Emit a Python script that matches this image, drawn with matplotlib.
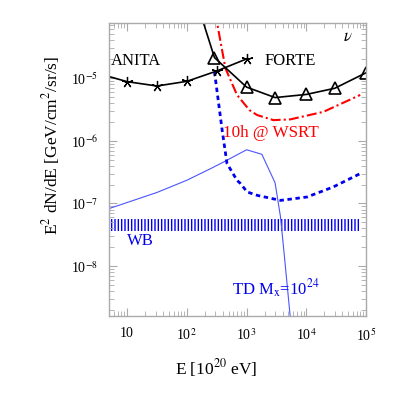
import matplotlib
matplotlib.use("Agg")
import matplotlib.pyplot as plt
from matplotlib.ticker import FixedLocator, LogLocator, NullFormatter

plt.rcParams["font.family"] = ["Liberation Serif", "DejaVu Serif"]
plt.rcParams["mathtext.fontset"] = "stix"
plt.rcParams["hatch.linewidth"] = 1.0

# ANITA sensitivity (stars)
anita_e = [5, 10, 31.6, 100, 316, 1000]
anita_flux = [1.06e-5, 8.8e-6, 7.5e-6, 8.9e-6, 1.3e-5, 2.03e-5]

# FORTE limit (triangles); first point lies above the frame
forte_e = [170, 290, 1000, 3000, 10000, 30000, 100000]
forte_flux = [1.06e-4, 2.13e-5, 7.2e-6, 4.9e-6, 5.5e-6, 6.9e-6, 1.22e-5]

# 10h @ WSRT (red dash-dot)
wsrt_e = [300, 320, 442, 692, 1114, 1500, 2810, 5400, 19300, 80000]
wsrt_flux = [1.1e-4, 7.7e-5, 1.44e-5, 5.4e-6, 3.1e-6, 2.58e-6,
             2.14e-6, 2.2e-6, 2.9e-6, 5.4e-6]

# blue dashed curve
lofar_e = [290, 390, 470, 690, 790, 1020, 1500, 3700, 10300, 28400, 80000]
lofar_flux = [1.27e-5, 1.48e-6, 4.35e-7, 2.35e-7, 2.08e-7, 1.53e-7, 1.35e-7,
              1.12e-7, 1.27e-7, 1.84e-7, 3.0e-7]

# topological defect model, M_x = 1e24 eV
td_e = [5, 31.6, 100, 250, 414, 1000, 1800, 3000, 3700, 4200, 5400]
td_flux = [8.3e-8, 1.5e-7, 2.35e-7, 3.6e-7, 4.6e-7, 7.2e-7, 6.1e-7,
           2.14e-7, 6.1e-8, 1.8e-8, 1.5e-9]

# Waxman-Bahcall band
wb_e = [5.25, 80000]
wb_low = [3.7e-8, 3.7e-8]
wb_high = [5.7e-8, 5.7e-8]

x_ticks = [10, 100, 1000, 10000, 100000]
x_tick_labels = ["10", r"10$^{2}$", r"10$^{3}$", r"10$^{4}$", r"10$^{5}$"]
y_ticks = [1e-8, 1e-7, 1e-6, 1e-5]
y_tick_labels = [r"10$^{-8}$", r"10$^{-7}$", r"10$^{-6}$", r"10$^{-5}$"]

BLUE = "#0000ee"
TD_BLUE = "#4a55ff"

fig = plt.figure(figsize=(4.15, 3.97), dpi=100)
ax = fig.add_axes([0.263, 0.204, 0.619, 0.739])

ax.fill_between(wb_e, wb_low, wb_high, facecolor="none", edgecolor=BLUE,
                hatch="|||||", linewidth=0)

ax.plot(td_e, td_flux, color=TD_BLUE, lw=0.8)
ax.plot(lofar_e, lofar_flux, color=BLUE, lw=2.0, dashes=(1.6, 1.3))
ax.plot(wsrt_e, wsrt_flux, color="red", lw=1.5, dashes=(4.8, 1.5, 1.0, 1.5))

ax.plot(anita_e, anita_flux, color="black", lw=1.2)
ax.plot(anita_e[1:], anita_flux[1:], ls="none", marker=(5, 2, 0),
        ms=8, mew=0.9, color="black")
ax.plot(forte_e, forte_flux, color="black", lw=1.2)
ax.plot(forte_e[1:], forte_flux[1:], ls="none", marker="^", ms=8,
        mfc="none", mec="black", mew=1.2)

ax.set_xscale("log")
ax.set_yscale("log")
ax.set_xlim(5, 1e5)
ax.set_ylim(1.6e-9, 7.7e-5)

ax.xaxis.set_major_locator(FixedLocator(x_ticks))
ax.set_xticklabels(x_tick_labels)
ax.yaxis.set_major_locator(FixedLocator(y_ticks))
ax.set_yticklabels(y_tick_labels)
ax.xaxis.set_minor_locator(LogLocator(base=10, subs=range(2, 10)))
ax.yaxis.set_minor_locator(LogLocator(base=10, subs=range(2, 10)))
ax.xaxis.set_minor_formatter(NullFormatter())
ax.yaxis.set_minor_formatter(NullFormatter())

for s in ax.spines.values():
    s.set_color("#aaaaaa")
    s.set_linewidth(1.0)
ax.tick_params(which="both", direction="in", top=True, right=True,
               color="#aaaaaa", labelsize=10)
ax.tick_params(which="major", length=6, pad=8)
ax.tick_params(which="minor", length=3.5)

ax.set_xlabel(r"E [10$^{20}$ eV]", fontsize=12.5)
ax.set_ylabel(r"E$^{2}$ dN/dE [GeV/cm$^{2}$/sr/s]", fontsize=12.5)
ax.xaxis.set_label_coords(0.416, -0.14)
ax.yaxis.set_label_coords(-0.183, 0.583)

ax.text(5.3, 1.9e-5, "ANITA", fontsize=12, va="center")
ax.text(2000, 1.9e-5, "FORTE", fontsize=12, va="center")
ax.text(0.93, 0.95, r"$\nu$", transform=ax.transAxes, fontsize=12,
        ha="center", va="center")
ax.text(410, 1.33e-6, "10h @ WSRT", color="red", fontsize=12.3, va="center")
ax.text(10, 2.5e-8, "WB", color=BLUE, fontsize=12, va="center")
ax.text(580, 4.3e-9, r"TD M$_{\rm x}$=10$^{24}$", color=BLUE, fontsize=12,
        va="center")

fig.savefig("out.png", dpi=100)
